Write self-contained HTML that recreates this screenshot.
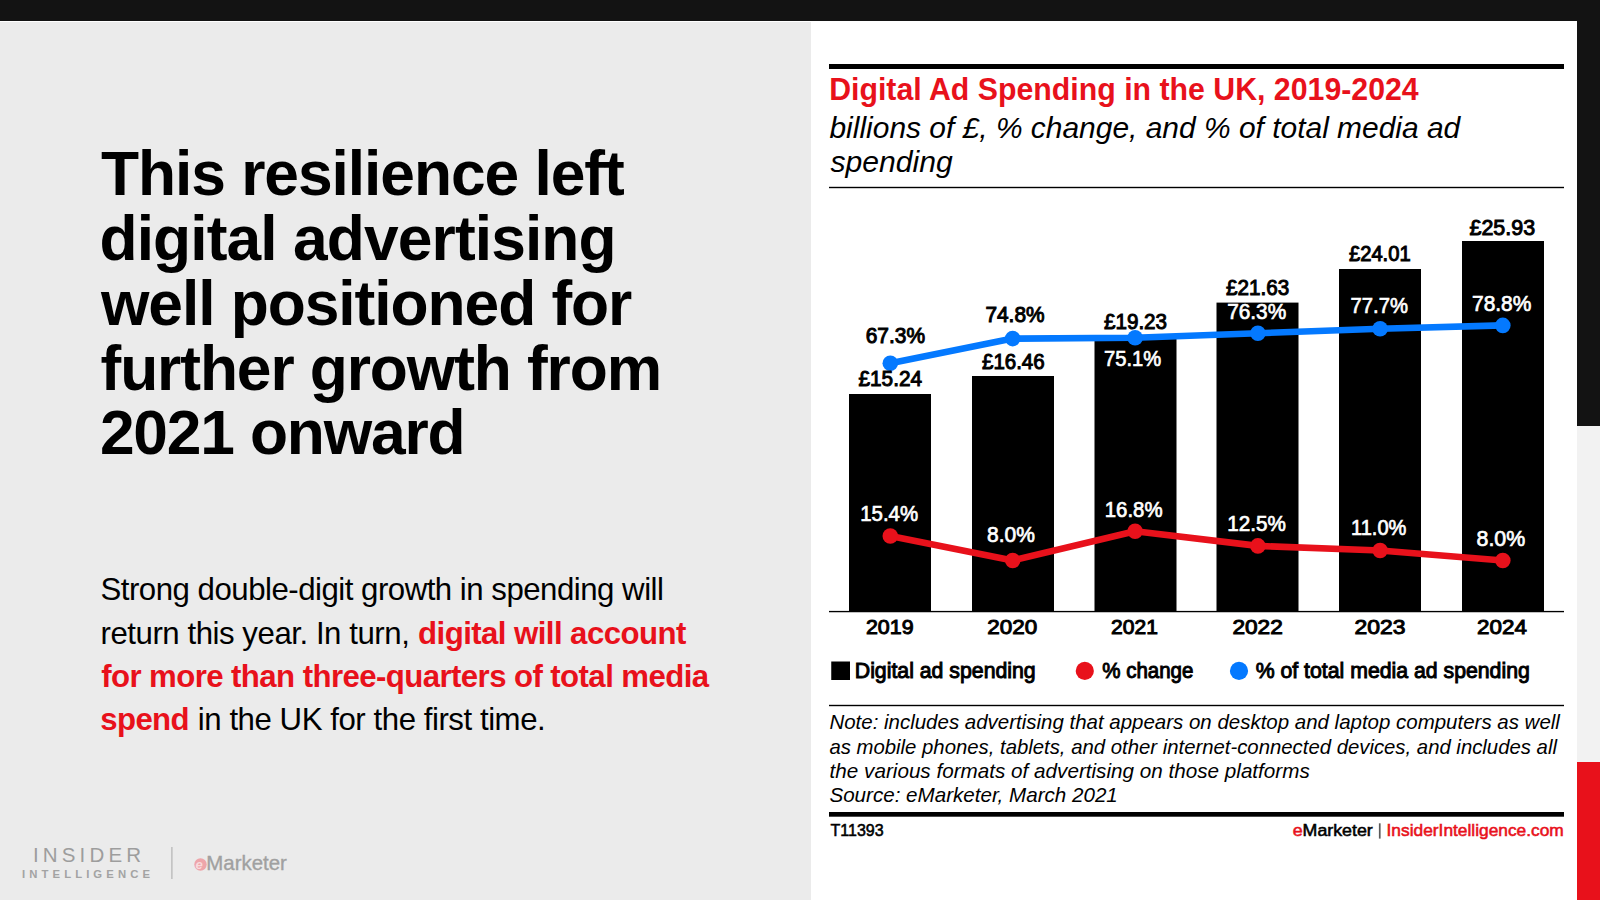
<!DOCTYPE html>
<html><head><meta charset="utf-8">
<style>
*{margin:0;padding:0}
html,body{width:1600px;height:900px;overflow:hidden;background:#fff;font-family:"Liberation Sans",sans-serif}
svg{position:absolute;left:0;top:0;font-family:"Liberation Sans",sans-serif}
</style></head><body>
<svg width="1600" height="900">
<rect x="0" y="0" width="1600" height="900" fill="#fff"/>
<rect x="0" y="22" width="811" height="878" fill="#ebebeb"/>
<rect x="0" y="0" width="1600" height="21" fill="#131313"/>
<rect x="1577" y="0" width="23" height="426" fill="#131313"/>
<rect x="1577" y="426" width="23" height="336" fill="#f2f2f2"/>
<rect x="1577" y="762" width="23" height="138" fill="#e8111b"/>
<text x="33" y="862" font-size="20.5" letter-spacing="4.15" fill="#9d9d9d">INSIDER</text>
<text x="22" y="878.3" font-weight="bold" font-size="11.3" letter-spacing="4.1" fill="#a3a3a3">INTELLIGENCE</text>
<rect x="171.3" y="847" width="1.2" height="32" fill="#b4b4b4"/>
<circle cx="200.5" cy="864.5" r="6.2" fill="#eea5aa"/><text x="195.6" y="869" font-size="13" font-weight="bold" fill="#f8dadc" font-style="italic">e</text><text x="206.3" y="870.1" textLength="80.5" lengthAdjust="spacingAndGlyphs" font-size="21" stroke="#a0a0a0" stroke-width="0.35" fill="#a0a0a0">Marketer</text>
<rect x="829" y="64" width="735" height="5" fill="#000"/>
<rect x="829" y="186.8" width="735" height="1.4" fill="#000"/>
<rect x="829" y="704.8" width="735" height="1.4" fill="#000"/>
<rect x="829" y="812" width="735" height="4.7" fill="#000"/>
<rect x="831.25" y="661.5" width="18.75" height="18.5" fill="#000"/>
<circle cx="1084.8" cy="670.9" r="9.1" fill="#e8111b"/>
<circle cx="1239" cy="670.9" r="9.1" fill="#0479ff"/>
<rect x="1378.9" y="823.3" width="1.7" height="15.3" fill="#5a5a5a"/>
<rect x="849" y="394" width="82" height="217.79999999999995" fill="#000"/>
<rect x="972" y="376" width="82" height="235.79999999999995" fill="#000"/>
<rect x="1094.5" y="336.6" width="82" height="275.19999999999993" fill="#000"/>
<rect x="1216.5" y="302.6" width="82" height="309.19999999999993" fill="#000"/>
<rect x="1339" y="269" width="82" height="342.79999999999995" fill="#000"/>
<rect x="1462" y="241" width="82" height="370.79999999999995" fill="#000"/>
<rect x="829" y="610.9" width="735" height="1.35" fill="#000"/>
<polyline points="890.3,363.2 1012.7,338.6 1135.1,337.8 1257.9,333.2 1380.1,328.8 1502.8,325.4" fill="none" stroke="#0479ff" stroke-width="6.6" stroke-linejoin="round"/><circle cx="890.3" cy="363.2" r="7.8" fill="#0479ff"/><circle cx="1012.7" cy="338.6" r="7.8" fill="#0479ff"/><circle cx="1135.1" cy="337.8" r="7.8" fill="#0479ff"/><circle cx="1257.9" cy="333.2" r="7.8" fill="#0479ff"/><circle cx="1380.1" cy="328.8" r="7.8" fill="#0479ff"/><circle cx="1502.8" cy="325.4" r="7.8" fill="#0479ff"/>
<polyline points="890.3,536 1012.7,560.5 1135.1,531.3 1257.9,545.9 1380.1,550.5 1502.8,560.5" fill="none" stroke="#e8111b" stroke-width="6.6" stroke-linejoin="round"/><circle cx="890.3" cy="536" r="7.8" fill="#e8111b"/><circle cx="1012.7" cy="560.5" r="7.8" fill="#e8111b"/><circle cx="1135.1" cy="531.3" r="7.8" fill="#e8111b"/><circle cx="1257.9" cy="545.9" r="7.8" fill="#e8111b"/><circle cx="1380.1" cy="550.5" r="7.8" fill="#e8111b"/><circle cx="1502.8" cy="560.5" r="7.8" fill="#e8111b"/>
<text x="101.0" y="195" textLength="523.76" lengthAdjust="spacing" font-weight="bold" font-style="normal" font-size="62.3" fill="#000">This resilience left</text>
<text x="99.5" y="259.8" textLength="517.08" lengthAdjust="spacing" font-weight="bold" font-style="normal" font-size="62.3" fill="#000">digital advertising</text>
<text x="100.9" y="324.7" textLength="531.46" lengthAdjust="spacing" font-weight="bold" font-style="normal" font-size="62.3" fill="#000">well positioned for</text>
<text x="100.5" y="390" textLength="561.59" lengthAdjust="spacing" font-weight="bold" font-style="normal" font-size="62.3" fill="#000">further growth from</text>
<text x="99.9" y="454.3" textLength="365.61" lengthAdjust="spacing" font-weight="bold" font-style="normal" font-size="62.3" fill="#000">2021 onward</text>
<text x="100.5" y="600.2" textLength="563.45" lengthAdjust="spacing" font-weight="normal" font-style="normal" font-size="31.2" fill="#000">Strong double-digit growth in spending will</text>
<text x="100.5" y="643.8" textLength="309.3" lengthAdjust="spacing" font-weight="normal" font-style="normal" font-size="31.2" fill="#000">return this year. In turn,</text>
<text x="418.1" y="643.8" textLength="268.18" lengthAdjust="spacing" font-weight="bold" font-style="normal" font-size="31.2" fill="#e8111b">digital will account</text>
<text x="101.2" y="686.6" textLength="607.9" lengthAdjust="spacing" font-weight="bold" font-style="normal" font-size="31.2" fill="#e8111b">for more than three-quarters of total media</text>
<text x="100.2" y="729.7" textLength="89.42" lengthAdjust="spacing" font-weight="bold" font-style="normal" font-size="31.2" fill="#e8111b">spend</text>
<text x="197.8" y="729.7" textLength="347.91" lengthAdjust="spacing" font-weight="normal" font-style="normal" font-size="31.2" fill="#000">in the UK for the first time.</text>
<text x="829.18" y="100.3" textLength="589.53" lengthAdjust="spacingAndGlyphs" font-weight="bold" font-style="normal" font-size="31.5" fill="#e8111b">Digital Ad Spending in the UK, 2019-2024</text>
<text x="829.47" y="137.6" textLength="630.8" lengthAdjust="spacingAndGlyphs" font-weight="normal" font-style="italic" font-size="29" fill="#000">billions of £, % change, and % of total media ad</text>
<text x="830.5" y="171.7" textLength="122.15" lengthAdjust="spacingAndGlyphs" font-weight="normal" font-style="italic" font-size="29" fill="#000">spending</text>
<text x="858.5" y="386.25" textLength="63.55" lengthAdjust="spacingAndGlyphs" font-weight="normal" font-style="normal" font-size="21.6" fill="#000" stroke="#000" stroke-width="1.0">£15.24</text>
<text x="982.0" y="368.8" textLength="62.64" lengthAdjust="spacingAndGlyphs" font-weight="normal" font-style="normal" font-size="21.6" fill="#000" stroke="#000" stroke-width="1.0">£16.46</text>
<text x="1104.0" y="328.8" textLength="63.04" lengthAdjust="spacingAndGlyphs" font-weight="normal" font-style="normal" font-size="21.6" fill="#000" stroke="#000" stroke-width="1.0">£19.23</text>
<text x="1226.1" y="295" textLength="63.14" lengthAdjust="spacingAndGlyphs" font-weight="normal" font-style="normal" font-size="21.6" fill="#000" stroke="#000" stroke-width="1.0">£21.63</text>
<text x="1349.0" y="261" textLength="61.64" lengthAdjust="spacingAndGlyphs" font-weight="normal" font-style="normal" font-size="21.6" fill="#000" stroke="#000" stroke-width="1.0">£24.01</text>
<text x="1469.5" y="234.5" textLength="65.55" lengthAdjust="spacingAndGlyphs" font-weight="normal" font-style="normal" font-size="21.6" fill="#000" stroke="#000" stroke-width="1.0">£25.93</text>
<text x="865.73" y="343" textLength="59.3" lengthAdjust="spacingAndGlyphs" font-weight="normal" font-style="normal" font-size="21.6" fill="#000" stroke="#000" stroke-width="1.0">67.3%</text>
<text x="985.43" y="322" textLength="59.09" lengthAdjust="spacingAndGlyphs" font-weight="normal" font-style="normal" font-size="21.6" fill="#000" stroke="#000" stroke-width="1.0">74.8%</text>
<text x="1104.07" y="366.2" textLength="57.15" lengthAdjust="spacingAndGlyphs" font-weight="normal" font-style="normal" font-size="21.6" fill="#fff" stroke="#fff" stroke-width="0.7">75.1%</text>
<text x="1227.13" y="318.5" textLength="59.09" lengthAdjust="spacingAndGlyphs" font-weight="normal" font-style="normal" font-size="21.6" fill="#fff" stroke="#fff" stroke-width="0.7">76.3%</text>
<text x="1350.56" y="313.3" textLength="57.36" lengthAdjust="spacingAndGlyphs" font-weight="normal" font-style="normal" font-size="21.6" fill="#fff" stroke="#fff" stroke-width="0.7">77.7%</text>
<text x="1472.03" y="310.5" textLength="59.3" lengthAdjust="spacingAndGlyphs" font-weight="normal" font-style="normal" font-size="21.6" fill="#fff" stroke="#fff" stroke-width="0.7">78.8%</text>
<text x="860.25" y="521.3" textLength="57.87" lengthAdjust="spacingAndGlyphs" font-weight="normal" font-style="normal" font-size="21.6" fill="#fff" stroke="#fff" stroke-width="0.7">15.4%</text>
<text x="987.03" y="541.6" textLength="47.89" lengthAdjust="spacingAndGlyphs" font-weight="normal" font-style="normal" font-size="21.6" fill="#fff" stroke="#fff" stroke-width="0.7">8.0%</text>
<text x="1104.76" y="516.6" textLength="57.76" lengthAdjust="spacingAndGlyphs" font-weight="normal" font-style="normal" font-size="21.6" fill="#fff" stroke="#fff" stroke-width="0.7">16.8%</text>
<text x="1227.24" y="530.5" textLength="58.58" lengthAdjust="spacingAndGlyphs" font-weight="normal" font-style="normal" font-size="21.6" fill="#fff" stroke="#fff" stroke-width="0.7">12.5%</text>
<text x="1351.07" y="535.3" textLength="55.31" lengthAdjust="spacingAndGlyphs" font-weight="normal" font-style="normal" font-size="21.6" fill="#fff" stroke="#fff" stroke-width="0.7">11.0%</text>
<text x="1476.51" y="545.5" textLength="48.71" lengthAdjust="spacingAndGlyphs" font-weight="normal" font-style="normal" font-size="21.6" fill="#fff" stroke="#fff" stroke-width="0.7">8.0%</text>
<text x="865.98" y="634" textLength="47.55" lengthAdjust="spacingAndGlyphs" font-weight="normal" font-style="normal" font-size="21" fill="#000" stroke="#000" stroke-width="1.0">2019</text>
<text x="987.33" y="634" textLength="49.94" lengthAdjust="spacingAndGlyphs" font-weight="normal" font-style="normal" font-size="21" fill="#000" stroke="#000" stroke-width="1.0">2020</text>
<text x="1111.1" y="634" textLength="46.82" lengthAdjust="spacingAndGlyphs" font-weight="normal" font-style="normal" font-size="21" fill="#000" stroke="#000" stroke-width="1.0">2021</text>
<text x="1232.42" y="634" textLength="50.35" lengthAdjust="spacingAndGlyphs" font-weight="normal" font-style="normal" font-size="21" fill="#000" stroke="#000" stroke-width="1.0">2022</text>
<text x="1354.51" y="634" textLength="50.98" lengthAdjust="spacingAndGlyphs" font-weight="normal" font-style="normal" font-size="21" fill="#000" stroke="#000" stroke-width="1.0">2023</text>
<text x="1477.13" y="634" textLength="49.77" lengthAdjust="spacingAndGlyphs" font-weight="normal" font-style="normal" font-size="21" fill="#000" stroke="#000" stroke-width="1.0">2024</text>
<text x="854.79" y="678" textLength="180.91" lengthAdjust="spacingAndGlyphs" font-weight="normal" font-style="normal" font-size="22.2" fill="#000" stroke="#000" stroke-width="1.0">Digital ad spending</text>
<text x="1102.3" y="678" textLength="91.03" lengthAdjust="spacingAndGlyphs" font-weight="normal" font-style="normal" font-size="22.2" fill="#000" stroke="#000" stroke-width="1.0">% change</text>
<text x="1255.7" y="678" textLength="274.12" lengthAdjust="spacingAndGlyphs" font-weight="normal" font-style="normal" font-size="22.2" fill="#000" stroke="#000" stroke-width="1.0">% of total media ad spending</text>
<text x="829.43" y="729" textLength="730.44" lengthAdjust="spacingAndGlyphs" font-weight="normal" font-style="italic" font-size="21" fill="#000">Note: includes advertising that appears on desktop and laptop computers as well</text>
<text x="829.43" y="753.6" textLength="727.49" lengthAdjust="spacingAndGlyphs" font-weight="normal" font-style="italic" font-size="21" fill="#000">as mobile phones, tablets, and other internet-connected devices, and includes all</text>
<text x="829.62" y="777.8" textLength="480.18" lengthAdjust="spacingAndGlyphs" font-weight="normal" font-style="italic" font-size="21" fill="#000">the various formats of advertising on those platforms</text>
<text x="829.42" y="802.3" textLength="288.39" lengthAdjust="spacingAndGlyphs" font-weight="normal" font-style="italic" font-size="21" fill="#000">Source: eMarketer, March 2021</text>
<text x="830.5" y="835.5" textLength="53.13" lengthAdjust="spacingAndGlyphs" font-weight="normal" font-style="normal" font-size="16.5" fill="#000" stroke="#000" stroke-width="0.55">T11393</text>
<text x="1292.7" y="835.7" textLength="80.1" lengthAdjust="spacingAndGlyphs" font-weight="normal" font-style="normal" font-size="16.5" fill="#000" stroke="#000" stroke-width="0.55"><tspan fill="#e8111b" stroke="#e8111b">e</tspan>Marketer</text>
<text x="1386.55" y="835.7" textLength="177.25" lengthAdjust="spacingAndGlyphs" font-weight="normal" font-style="normal" font-size="16.5" fill="#e8111b" stroke="#e8111b" stroke-width="0.55">InsiderIntelligence.com</text>
</svg>
</body></html>
